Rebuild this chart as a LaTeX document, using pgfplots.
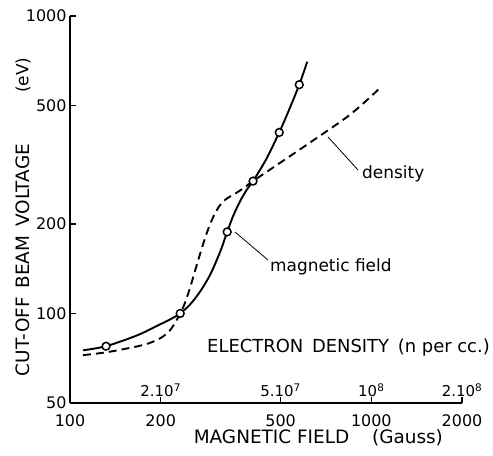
\documentclass[border=0pt]{standalone}
\usepackage{fontspec}
\setmainfont{DejaVu Sans}
\newfontfamily\dv{DejaVu Sans}
\usepackage{pgfplots}
\pgfplotsset{compat=1.18}
\begin{document}
\begin{tikzpicture}
\useasboundingbox (-70bp,-53bp) rectangle (423bp,403bp);
\begin{axis}[
  anchor=south west, at={(0,0)},
  scale only axis, width=392bp, height=387bp,
  xmode=log, ymode=log,
  xmin=100, xmax=2000, ymin=50, ymax=1000,
  axis x line*=bottom, axis y line*=left,
  axis line style={line width=1.4bp, -},
  xtick={100,200,500,1000,2000}, xticklabels={100,200,500,1000,2000},
  ytick={50,100,200,500,1000}, yticklabels={50,100,200,500,1000},
  minor xtick={}, minor ytick={},
  tick align=inside, major tick length=6bp,
  tick style={line width=1.4bp, black},
  every tick label/.append style={font=\dv\fontsize{16}{16}\selectfont},
  xticklabel style={yshift=-8bp},
  yticklabel style={xshift=0bp},
  clip=false,
]
% density (dashed)
\addplot[black, line width=1.9bp, dash pattern=on 8bp off 5bp, smooth, tension=0.5] coordinates {
 (110.4,72.4) (132.7,74.1) (167,77.5) (184.5,79.7) (199.1,82.5) (211.8,86.4) (221.7,91.9)
 (232.1,100) (241,108.8) (250.4,122.2) (260.1,139.3) (270.3,158.7) (280.9,179.6)
 (291.9,200) (303.3,217.7) (315.1,231.5) (329.6,242.4) (353.3,252.9) (381.5,265.9)
 (405,278.6) (613,370) (851.6,466.6) (1071,574)
};
% magnetic field (solid)
\addplot[black, line width=1.9bp, smooth, tension=0.5] coordinates {
 (110.4,75.2) (131.7,77.6) (167,84.4) (199.1,91.9) (214.9,95.5) (232.1,100) (250.4,107.2)
 (270.3,118.5) (291.9,135) (315.1,161.2) (332.4,188) (348,212.7) (367.2,238.8)
 (387.3,261.9) (405,278.6) (447.9,330) (494.8,406) (534,485) (576.6,587.5) (613,702)
};
% measured points
\addplot[only marks, mark=*, mark size=3.9bp, mark options={fill=white, draw=black, line width=1.5bp}] coordinates {
 (131.7,77.6) (232.1,100) (332.4,188) (405,278.6) (494.8,406) (576.6,587.5)
};
% top density scale labels
\node[anchor=base, font=\dv\fontsize{15}{15}\selectfont, yshift=6bp] at (axis cs:200,50) {2.10\textsuperscript{7}};
\node[anchor=base, font=\dv\fontsize{15}{15}\selectfont, yshift=6bp] at (axis cs:500,50) {5.10\textsuperscript{7}};
\node[anchor=base, font=\dv\fontsize{15}{15}\selectfont, yshift=6bp] at (axis cs:1000,50) {10\textsuperscript{8}};
\node[anchor=base, font=\dv\fontsize{15}{15}\selectfont, yshift=6bp] at (axis cs:2000,50) {2.10\textsuperscript{8}};
\end{axis}
% labels
\node[rotate=90, font=\dv\fontsize{18.5}{18.5}\selectfont] at (-47bp,143bp) {CUT-OFF\, BEAM\, VOLTAGE};
\node[rotate=90, font=\dv\fontsize{17}{17}\selectfont] at (-47bp,328bp) {(eV)};
\node[font=\dv\fontsize{18.5}{18.5}\selectfont] at (201.5bp,-34bp) {MAGNETIC FIELD};
\node[font=\dv\fontsize{18.5}{18.5}\selectfont] at (337.5bp,-35bp) {(Gauss)};
\node[font=\dv\fontsize{18}{18}\selectfont] at (278.5bp,55bp) {ELECTRON\, DENSITY\, (n per cc.)};
% annotations
\draw[line width=0.8bp] (258bp,266bp) -- (288bp,233bp);
\node[anchor=west, font=\dv\fontsize{17}{17}\selectfont, inner sep=1bp] at (291bp,229bp) {density};
\draw[line width=0.8bp] (165bp,171bp) -- (198bp,143bp);
\node[anchor=west, font=\dv\fontsize{17}{17}\selectfont, inner sep=1bp] at (199bp,136bp) {magnetic field};
\end{tikzpicture}
\end{document}
